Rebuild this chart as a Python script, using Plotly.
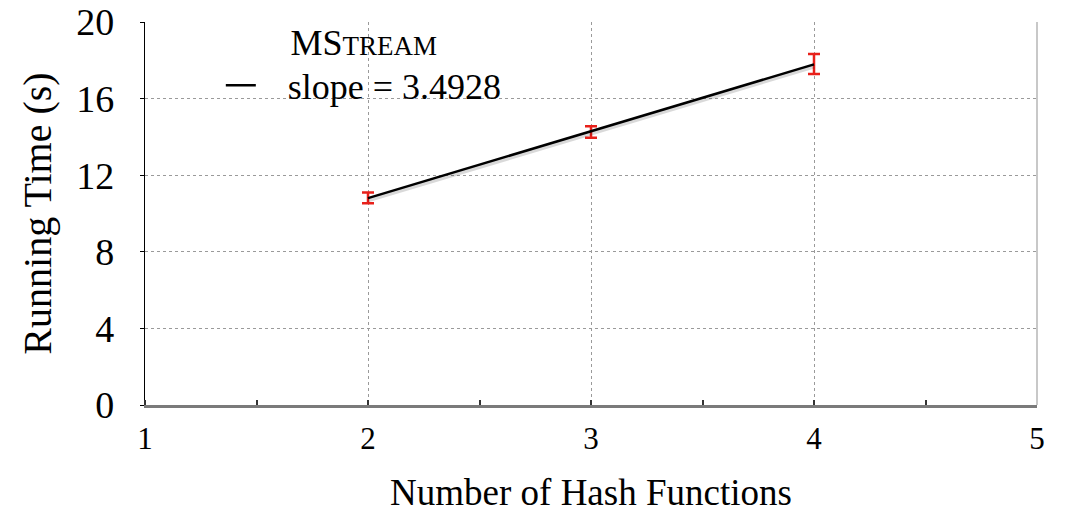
import numpy as np
import plotly.graph_objects as go

# Running time vs. number of hash functions
hash_functions = [2, 3, 4]
running_time = [10.82, 14.26, 17.8056]
time_err = [0.28, 0.30, 0.52]

x_ticks = [1, 2, 3, 4, 5]
y_ticks = [0, 4, 8, 12, 16, 20]

slope, intercept = np.polyfit(hash_functions, running_time, 1)
fit_y = [slope * x + intercept for x in hash_functions]

FONT = "Liberation Serif, Times New Roman, serif"

fig = go.Figure()

# error bars at each measured point
fig.add_trace(go.Scatter(
    x=hash_functions, y=running_time, mode="markers",
    marker=dict(size=1, color="rgba(0,0,0,0)"),
    error_y=dict(type="data", array=time_err, visible=True,
                 color="#e8201a", thickness=2.5, width=6),
    showlegend=False, hoverinfo="skip",
))

# soft shadow under the fitted line
fig.add_trace(go.Scatter(
    x=hash_functions, y=[v - 0.12 for v in fit_y], mode="lines",
    line=dict(color="rgba(0,0,0,0.15)", width=4),
    showlegend=False, hoverinfo="skip",
))

# fitted line
fig.add_trace(go.Scatter(
    x=hash_functions, y=fit_y, mode="lines",
    line=dict(color="black", width=2.5),
    name=f"&nbsp;&nbsp;&nbsp;slope = {slope:.4f}",
))

fig.update_layout(
    width=1068, height=513,
    margin=dict(l=145, r=31, t=22, b=108, autoexpand=False),
    paper_bgcolor="white", plot_bgcolor="white",
    font=dict(family=FONT, size=36, color="black"),
    showlegend=True,
    legend=dict(
        x=0.085, y=1.035, xanchor="left", yanchor="top",
        bgcolor="rgba(0,0,0,0)",
        font=dict(family=FONT, size=36),
        title=dict(text="MS<span style='font-size:27px'>TREAM</span>",
                   side="top center", font=dict(family=FONT, size=36)),
        itemwidth=30,
        tracegroupgap=0,
    ),
    xaxis=dict(
        range=[1, 5], tickvals=x_ticks, ticktext=[str(v) for v in x_ticks],
        showgrid=True, gridcolor="#9a9a9a", griddash="dot", gridwidth=1,
        showline=True, linecolor="#7a7a7a", linewidth=3,
        ticks="", tickfont=dict(size=31), ticklabelstandoff=4,
        minor=dict(dtick=0.5, ticks="inside", ticklen=5,
                   tickcolor="#333", tickwidth=1.5, showgrid=False),
        title=dict(text="Number of Hash Functions", font=dict(size=37), standoff=24),
        zeroline=False, automargin=False,
    ),
    yaxis=dict(
        range=[0, 20], tickvals=y_ticks,
        showgrid=True, gridcolor="#9a9a9a", griddash="dot", gridwidth=1,
        showline=True, linecolor="black", linewidth=1.2,
        ticks="outside", ticklen=4, tickcolor="black",
        tickfont=dict(size=38), ticklabelstandoff=18,
        title=dict(text="Running Time (s)", font=dict(size=40), standoff=12),
        zeroline=False, automargin=True,
    ),
    shapes=[
        dict(type="line", xref="paper", yref="paper", x0=1, x1=1, y0=0, y1=1,
             line=dict(color="#c8c8c8", width=2)),
    ],
)

fig.write_html("out.html")
